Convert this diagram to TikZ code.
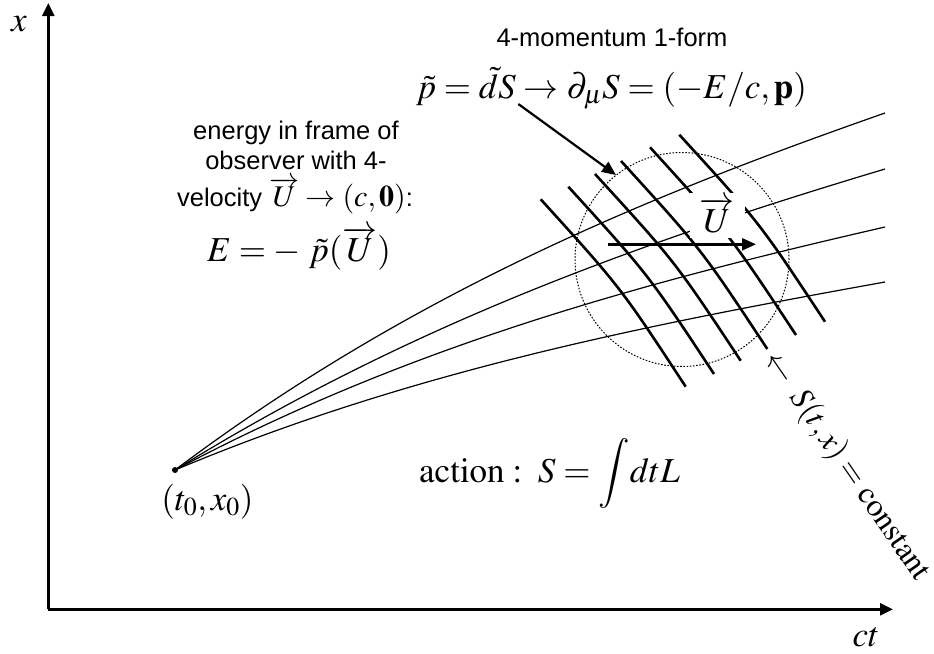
\documentclass[tikz,border=0pt]{standalone}
\usepackage{mathptmx}
\usepackage{fontspec}
\setmainfont{Liberation Serif}
\newfontfamily\sansf{Liberation Sans}
\usetikzlibrary{arrows.meta}
\begin{document}
\begin{tikzpicture}[x=1pt,y=-1pt,
  thinline/.style={line width=1.2pt},
  levelline/.style={line width=2.6pt},
  axisline/.style={line width=2.4pt,-{Triangle[length=13pt,width=12pt]}},
  bigarrow/.style={line width=2.4pt,-{Triangle[length=14pt,width=12pt]}},
  mathlbl/.style={font=\fontsize{35}{42}\selectfont, inner sep=0pt},
  sanslbl/.style={font=\sansf\fontsize{25.5}{30}\selectfont, inner sep=0pt},
]
\useasboundingbox (0,0) rectangle (934,653);

% axes
\coordinate (O) at (48.3,609.3);
\coordinate (ytip) at (48.3,3);
\coordinate (xtip) at (893,609.3);
\draw[axisline] (O) -- (ytip);
\draw[axisline] (O) -- (xtip);
\node[mathlbl, anchor=base] (xlab) at (19,31) {$x$};
\node[mathlbl, anchor=base] (ctlab) at (866,646) {$ct$};

% origin event
\coordinate (p0) at (175,470);
\fill (p0) circle (3pt);
\node[mathlbl, anchor=base] (p0lab) at (207.5,510) {$(t_0,x_0)$};

% world lines
\coordinate (w1) at (885,113);
\coordinate (w2) at (885,169);
\coordinate (w3) at (885,227);
\coordinate (w4) at (885,282);
\draw[thinline] (p0) .. controls (412,292) and (648,196) .. (w1);
\draw[thinline] (p0) .. controls (412,323) and (648,240) .. (w2);
\draw[thinline] (p0) .. controls (412,344) and (648,281.5) .. (w3);
\draw[thinline] (p0) .. controls (412,370.5) and (648,324.7) .. (w4);

% level sets S = const
\coordinate (a1) at (540.7,199.3); \coordinate (b1) at (685.7,386.7);
\coordinate (a2) at (568.3,186.7); \coordinate (b2) at (714,374);
\coordinate (a3) at (595,174);     \coordinate (b3) at (740.7,360.7);
\coordinate (a4) at (621,161);     \coordinate (b4) at (767.3,349);
\coordinate (a5) at (650,147.3);   \coordinate (b5) at (796,335);
\coordinate (a6) at (679.3,134.7); \coordinate (b6) at (825,321.7);
\draw[levelline] (a1) .. controls (620.6,287.3) .. (b1);
\draw[levelline] (a2) .. controls (648.5,274.7) .. (b2);
\draw[levelline] (a3) .. controls (675.2,261.7) .. (b3);
\draw[levelline] (a4) .. controls (701.5,249.3) .. (b4);
\draw[levelline] (a5) .. controls (730.3,235.5) .. (b5);
\draw[levelline] (a6) .. controls (759.5,222.5) .. (b6);

% dotted circle
\node[draw, circle, line width=1pt, dash pattern=on 1.6pt off 1.6pt,
      minimum size=214pt, inner sep=0pt] (disc) at (682,259.5) {};

% U label and arrow
\node[mathlbl, fill=white, minimum width=55pt, minimum height=45pt] (ulab) at (717,215.5) {$\overrightarrow{U}$};
\coordinate (ua) at (607.7,244.3);
\coordinate (ub) at (756,244.3);
\draw[bigarrow] (ua) -- (ub);

% 4-momentum formula
\node[sanslbl, anchor=base] (mom) at (612,46) {4-momentum 1-form};
\node[mathlbl, anchor=base] (pform) at (611.5,98.3) {$\tilde{p} = \tilde{d}S \to \partial_\mu S = (-E/c,\mathbf{p})$};
\coordinate (dS) at (518.3,104);
\coordinate (dstip) at (616,175);
\draw[bigarrow, line width=2.2pt] (dS) -- (dstip);

% energy text
\node[sanslbl, anchor=base] (e1) at (296,139.3) {energy in frame of};
\node[sanslbl, anchor=base] (e2) at (296,169.3) {observer with 4-};
\node[sanslbl, anchor=base] (e3) at (295,206.7) {velocity {\fontsize{30}{32}\selectfont$\overrightarrow{U} \to (c,\mathbf{0})$}:};
\node[mathlbl, anchor=base] (e4) at (299,261.7) {$E = -\;\tilde{p}(\overrightarrow{U})$};

% action
\node[mathlbl, anchor=base west] (act) at (419,482.7) {$\mathrm{action}\;{:}\;\;S = \displaystyle\int\! dtL$};

% level set label
\node[font=\fontsize{32}{38}\selectfont, inner sep=0pt, rotate=-55.5, anchor=west] (slab) at (770,355) {$\leftarrow\;S(t,x) = \mathrm{constant}$};
\end{tikzpicture}
\end{document}
